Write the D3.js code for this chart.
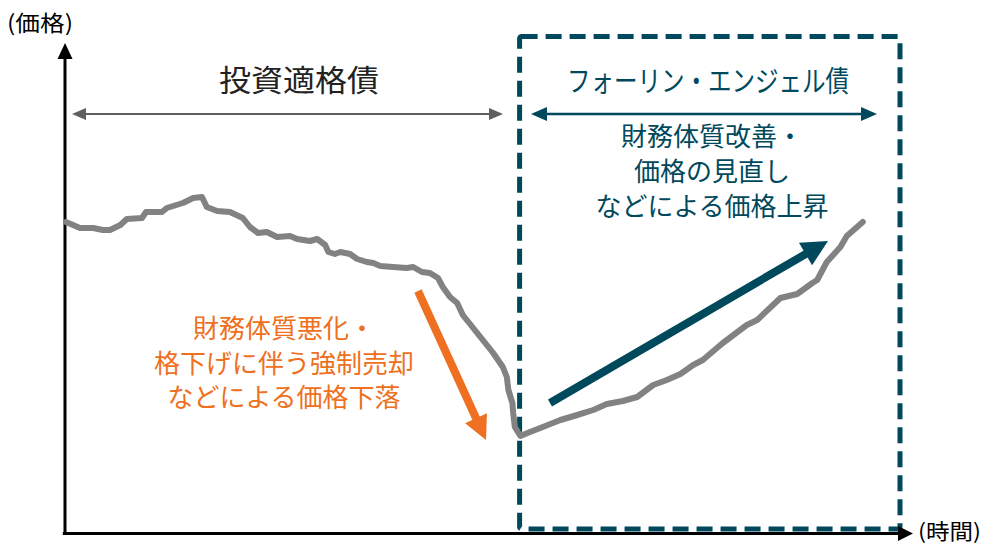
<!DOCTYPE html>
<html>
<head>
<meta charset="utf-8">
<script src="https://cdn.jsdelivr.net/npm/d3@7"></script>
<style>
  html, body { margin: 0; padding: 0; background: #fff; }
  svg text { font-family: "Noto Sans CJK JP", "Noto Sans", sans-serif; }
</style>
</head>
<body>
<div id="chart"></div>
<script>
// price path (time 0-100, price index 0-100)
var time = [0, 1.75, 3.4, 4.6, 5.5, 6.8, 7.6, 9.5, 10.0, 12.0, 12.6, 14.6, 15.9, 17.0, 17.6, 18.9,
  20.5, 22.1, 23.0, 24.0, 25.1, 26.4, 28.0, 28.9, 30.5, 31.4, 32.4, 32.8, 33.6, 34.3, 35.5, 36.4,
  37.6, 38.4, 39.3, 40.9, 42.6, 43.4, 44.5, 45.5, 46.5, 47.1, 48.0, 48.9, 49.6, 50.9, 52.1, 53.4,
  54.6, 55.1, 55.3, 55.8, 55.9, 56.1, 56.8, 58.0, 59.6, 61.8, 63.9, 65.9, 67.6, 69.6, 71.4, 73.4,
  75.1, 76.8, 78.4, 79.6, 82.1, 85.1, 86.4, 89.3, 91.4, 93.3, 93.9, 95.1, 96.8, 97.6, 99.6];
var price = [62.2, 61.0, 61.0, 60.6, 60.6, 61.6, 62.8, 63.0, 64.2, 64.2, 65.0, 66.0, 67.0, 67.2, 65.2, 64.4,
  64.2, 63.0, 61.2, 60.0, 60.2, 59.2, 59.4, 58.8, 58.4, 58.8, 57.6, 56.2, 55.8, 56.2, 55.8, 54.8,
  54.2, 54.0, 53.4, 53.2, 53.0, 53.2, 52.2, 52.0, 51.0, 49.2, 47.2, 46.0, 43.6, 41.0, 38.6, 36.0,
  33.2, 31.2, 28.6, 26.0, 24.0, 21.2, 19.4, 20.2, 21.2, 22.6, 23.6, 24.6, 25.8, 26.4, 27.2, 29.6,
  30.6, 31.8, 33.6, 34.6, 38.0, 41.6, 42.6, 47.0, 47.8, 50.0, 50.6, 54.2, 57.2, 59.4, 62.2];

var axisLabels = ["(価格)", "(時間)"];
var segmentLabels = ["投資適格債", "フォーリン・エンジェル債"];
var fallLines = ["財務体質悪化・", "格下げに伴う強制売却", "などによる価格下落"];
var riseLines = ["財務体質改善・", "価格の見直し", "などによる価格上昇"];

var W = 987, H = 546;
var TEAL = "#00495c", ORANGE = "#ee7020", GREY = "#828282", DARK = "#5f5f5f";

var svg = d3.select("#chart").append("svg")
  .attr("width", W).attr("height", H);

var x = d3.scaleLinear().domain([0, 100]).range([66, 866]);
var y = d3.scaleLinear().domain([0, 100]).range([533, 33]);

// line with arrow head(s), heads drawn as triangles
function arrow(x1, y1, x2, y2, color, lw, hl, hw, both) {
  var dx = x2 - x1, dy = y2 - y1, len = Math.sqrt(dx * dx + dy * dy);
  var ux = dx / len, uy = dy / len, px = -uy, py = ux;
  var sx = both ? x1 + ux * hl * 0.8 : x1, sy = both ? y1 + uy * hl * 0.8 : y1;
  svg.append("line")
    .attr("x1", sx).attr("y1", sy)
    .attr("x2", x2 - ux * hl * 0.8).attr("y2", y2 - uy * hl * 0.8)
    .style("stroke", color).style("stroke-width", lw);
  function head(tx, ty, ux, uy) {
    var bx = tx - ux * hl, by = ty - uy * hl;
    svg.append("polygon")
      .attr("points", [tx, ty, bx + px * hw / 2, by + py * hw / 2, bx - px * hw / 2, by - py * hw / 2])
      .style("fill", color);
  }
  head(x2, y2, ux, uy);
  if (both) head(x1, y1, -ux, -uy);
}

// dashed box for fallen angel period
svg.append("rect")
  .attr("x", x(56.7)).attr("y", 36.5)
  .attr("width", x(104.25) - x(56.7)).attr("height", 529 - 36.5)
  .attr("rx", 2)
  .style("fill", "none").style("stroke", TEAL).style("stroke-width", 5)
  .style("stroke-dasharray", "16,8");

// axes
arrow(x(-0.125), y(-0.1), x(-0.125), 43, "#000", 3, 16, 15, false);
arrow(x(-0.4), y(-0.1), 913, y(-0.1), "#000", 3, 15, 15, false);

svg.append("text").text(axisLabels[0])
  .attr("x", 7).attr("y", 31)
  .attr("textLength", 66).attr("lengthAdjust", "spacingAndGlyphs")
  .style("font-size", "22px").style("fill", "#000");
svg.append("text").text(axisLabels[1])
  .attr("x", 918).attr("y", 539)
  .attr("textLength", 63).attr("lengthAdjust", "spacingAndGlyphs")
  .style("font-size", "21px").style("fill", "#000");

// price line
var pts = time.map(function (t, i) { return [t, price[i]]; });
var line = d3.line().x(function (d) { return x(d[0]); }).y(function (d) { return y(d[1]); });
svg.append("path").datum(pts)
  .attr("d", line)
  .style("fill", "none").style("stroke", GREY).style("stroke-width", 6)
  .style("stroke-linejoin", "round").style("stroke-linecap", "round");

// period arrows and titles
arrow(72, 114, 503, 114, DARK, 2, 14, 12, true);
arrow(531, 114, 877, 114, TEAL, 2.5, 16, 14, true);

svg.append("text").text(segmentLabels[0])
  .attr("x", 299).attr("y", 91).attr("text-anchor", "middle")
  .attr("textLength", 160).attr("lengthAdjust", "spacingAndGlyphs")
  .style("font-size", "30px").style("fill", "#222");
svg.append("text").text(segmentLabels[1])
  .attr("x", 708).attr("y", 92).attr("text-anchor", "middle")
  .attr("textLength", 282).attr("lengthAdjust", "spacingAndGlyphs")
  .style("font-size", "29px").style("fill", TEAL);

// trend arrows
arrow(418, 291, 486, 440, ORANGE, 8, 24, 24, false);
arrow(550, 403, 828, 241, TEAL, 8, 26, 26, false);

// annotations
svg.selectAll("text.fall").data(fallLines).enter().append("text")
  .attr("class", "fall")
  .attr("x", 284).attr("y", function (d, i) { return 338 + i * 34.5; })
  .attr("text-anchor", "middle")
  .style("font-size", "26px").style("fill", ORANGE)
  .text(function (d) { return d; });

svg.selectAll("text.rise").data(riseLines).enter().append("text")
  .attr("class", "rise")
  .attr("x", 712).attr("y", function (d, i) { return 146 + i * 35; })
  .attr("text-anchor", "middle")
  .style("font-size", "26px").style("fill", TEAL)
  .text(function (d) { return d; });
</script>
</body>
</html>
